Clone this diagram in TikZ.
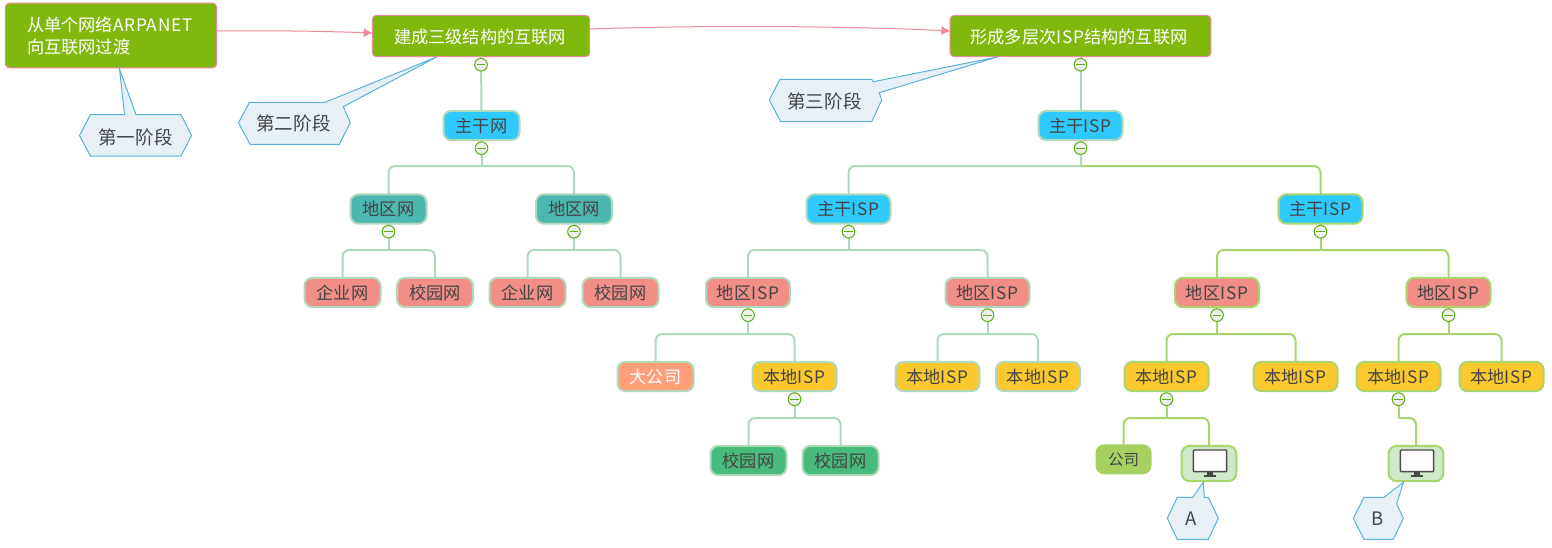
\documentclass[tikz,border=0pt]{standalone}
\usepackage{fontspec}
\setmainfont{Noto Sans CJK SC}
\usetikzlibrary{arrows.meta,calc}
\definecolor{rootfill}{HTML}{80B90E}
\definecolor{rootline}{HTML}{F0899A}
\definecolor{lgreen}{HTML}{B0D9BB}
\definecolor{lime}{HTML}{A8D56C}
\definecolor{bluef}{HTML}{2FC9FC}
\definecolor{tealf}{HTML}{4CB7AF}
\definecolor{salmonf}{HTML}{F18E86}
\definecolor{goldf}{HTML}{FBC82D}
\definecolor{greenf}{HTML}{48BA7C}
\definecolor{orangef}{HTML}{FF9E78}
\definecolor{compf}{HTML}{A5D160}
\definecolor{pcf}{HTML}{D1E7CC}
\definecolor{txt}{HTML}{444444}
\definecolor{calf}{HTML}{E8F0F7}
\definecolor{call}{HTML}{5BB2D6}
\definecolor{minusg}{HTML}{5BAE14}
\newcommand{\lat}[1]{{\addfontfeature{LetterSpace=5}#1}}
\tikzset{
  x=0.75pt,y=-0.75pt,
  base/.style={font=\fontsize{12.9pt}{16.5pt}\selectfont,text=txt,inner sep=0pt,outer sep=0pt,align=center},
  cjk/.style={base,text height=11.3pt,text depth=1.5pt},
  rootbox/.style={base,text=white,draw=rootline,fill=rootfill,line width=0.75pt,rounded corners=3pt},
  topic/.style={cjk,line width=1.5pt,rounded corners=6pt,minimum height=22pt},
  nar/.style={topic,minimum width=57pt},
  wid/.style={topic,minimum width=63pt},
  lg/.style={draw=lgreen},
  lm/.style={draw=lime},
  conn/.style={line width=1.5pt,rounded corners=5pt},
  collapse/.style={circle,draw=minusg,fill=white!88!gray,line width=0.75pt,minimum size=9.5pt,inner sep=0pt,
    path picture={\draw[minusg,line width=0.8pt] ($(path picture bounding box.west)+(2.2,0)$) -- ($(path picture bounding box.east)+(-2.2,0)$);}},
  jump/.style={draw=rootline,line width=0.75pt,-{Latex[length=6.5pt,width=7pt]}},
  bubble/.style={draw=call,fill=calf,line width=0.75pt,line join=miter},
  bubbletext/.style={font=\fontsize{13.9pt}{16pt}\selectfont,text=txt,inner sep=0pt},
}
\newcommand{\branch}[4]{% style, parent, bus y, children
  \coordinate (#2-bus) at (#2.south |- 0,#3);
  \draw[conn,#1] (#2.south) -- (#2-bus);
  \foreach \kid in {#4} {\draw[conn,#1] (#2-bus) -| (\kid.north);}
}
\newcommand{\monitor}[1]{%
  \begin{scope}[shift={(#1.center)}]
    \draw[draw=black!70,fill=white!97!pink,line width=1.1pt,rounded corners=0.8pt] (-15.7,-13.5) rectangle (17.7,8.2);
    \fill[black!72] (-1.7,8.2) rectangle (3.7,11.6);
    \fill[black!72] (-5,11.6) rectangle (7,13.3);
  \end{scope}}
\begin{document}
\begin{tikzpicture}
\fill[white] (0,0) rectangle (1552,547);
\useasboundingbox (0,0) rectangle (1552,547);

% roots
\node[rootbox,minimum width=158.5pt,minimum height=48.5pt] (r1) at (111,35.5) {};
\node[base,text=white,align=left,anchor=west] (r1t) at (27,35.5) {从单个网络\lat{ARPANET}\\向互联网过渡};
\node[rootbox,minimum width=163pt,minimum height=31pt] (r2) at (481,36) {};
\node[cjk,text=white] (r2t) at (480,36.5) {建成三级结构的互联网};
\node[rootbox,minimum width=195.5pt,minimum height=31pt] (r3) at (1080.5,36) {};
\node[cjk,text=white] (r3t) at (1079,36.5) {形成多层次\lat{ISP}结构的互联网};

% left tree
\node[nar,draw=lgreen,fill=bluef] (a0) at (481.5,125.5) {主干网};
\node[nar,draw=lgreen,fill=tealf] (a1) at (388.5,209) {地区网};
\node[nar,draw=lgreen,fill=tealf] (a2) at (574,209) {地区网};
\node[nar,draw=lgreen,fill=salmonf] (a11) at (342.5,292.5) {企业网};
\node[nar,draw=lgreen,fill=salmonf] (a12) at (435,292.5) {校园网};
\node[nar,draw=lgreen,fill=salmonf] (a21) at (527.5,292.5) {企业网};
\node[nar,draw=lgreen,fill=salmonf] (a22) at (620.5,292.5) {校园网};

% right tree, left half
\node[wid,draw=lgreen,fill=bluef] (b0) at (1080.5,125.5) {主干\lat{ISP}};
\node[wid,draw=lgreen,fill=bluef] (b1) at (848.5,209) {主干\lat{ISP}};
\node[wid,draw=lgreen,fill=salmonf] (b11) at (748,292.5) {地区\lat{ISP}};
\node[wid,draw=lgreen,fill=salmonf] (b12) at (987.5,292.5) {地区\lat{ISP}};
\node[nar,draw=lgreen,fill=orangef,text=white] (b111) at (655.5,376.5) {大公司};
\node[wid,draw=lgreen,fill=goldf] (b112) at (794.5,376.5) {本地\lat{ISP}};
\node[wid,draw=lgreen,fill=goldf] (b121) at (937.5,376.5) {本地\lat{ISP}};
\node[wid,draw=lgreen,fill=goldf] (b122) at (1038,376.5) {本地\lat{ISP}};
\node[nar,draw=lgreen,fill=greenf] (b1121) at (748.5,460.5) {校园网};
\node[nar,draw=lgreen,fill=greenf] (b1122) at (840.5,460.5) {校园网};

% right tree, right half
\node[wid,draw=lime,fill=bluef] (c1) at (1320.5,209) {主干\lat{ISP}};
\node[wid,draw=lime,fill=salmonf] (c11) at (1217,292.5) {地区\lat{ISP}};
\node[wid,draw=lime,fill=salmonf] (c12) at (1448.5,292.5) {地区\lat{ISP}};
\node[wid,draw=lime,fill=goldf] (c111) at (1166.5,376.5) {本地\lat{ISP}};
\node[wid,draw=lime,fill=goldf] (c112) at (1295.5,376.5) {本地\lat{ISP}};
\node[wid,draw=lime,fill=goldf] (c121) at (1398.5,376.5) {本地\lat{ISP}};
\node[wid,draw=lime,fill=goldf] (c122) at (1501.5,376.5) {本地\lat{ISP}};
\node[cjk,font=\fontsize{11.6pt}{14pt}\selectfont,fill=compf,rounded corners=6.5pt,minimum width=42pt,minimum height=22.5pt] (co) at (1123.5,459.3) {公司};
\node[draw=lime,fill=pcf,line width=1.5pt,rounded corners=6pt,minimum width=41pt,minimum height=26.5pt,inner sep=0pt,outer sep=0pt] (pc1) at (1209,463.5) {};
\node[draw=lime,fill=pcf,line width=1.5pt,rounded corners=6pt,minimum width=41pt,minimum height=26.5pt,inner sep=0pt,outer sep=0pt] (pc2) at (1416,463.5) {};
\monitor{pc1}
\monitor{pc2}

% connectors
\draw[conn,lg] (r2.south) -- (a0.north);
\branch{lg}{a0}{166}{a1,a2}
\branch{lg}{a1}{250}{a11,a12}
\branch{lg}{a2}{250}{a21,a22}
\draw[conn,lg] (r3.south) -- (b0.north);
\coordinate (b0-bus) at (b0.south |- 0,166);
\draw[conn,lm] (b0-bus) -| (c1.north);
\draw[conn,lg] (b0-bus) -| (b1.north);
\draw[conn,lg] (b0.south) -- (b0-bus);
\branch{lg}{b1}{250}{b11,b12}
\branch{lg}{b11}{334}{b111,b112}
\branch{lg}{b12}{334}{b121,b122}
\branch{lg}{b112}{418}{b1121,b1122}
\branch{lm}{c1}{250}{c11,c12}
\branch{lm}{c11}{334}{c111,c112}
\branch{lm}{c12}{334}{c121,c122}
\branch{lm}{c111}{418}{co,pc1}
\branch{lm}{c121}{418}{pc2}

% collapse buttons
\foreach \p in {r2,r3,a0,a1,a2,b0,b1,b11,b12,b112,c1,c11,c12,c111,c121}
  \node[collapse] (m-\p) at ($(\p.south)+(0,8)$) {};

% jump arrows
\coordinate (j1s) at (r1.east |- 0,31);
\coordinate (j1e) at (r2.west |- 0,33);
\coordinate (j2s) at (r2.east |- 0,29);
\coordinate (j2e) at (r3.west |- 0,31);
\draw[jump] (j1s) .. controls (270,30.5) and (320,31) .. (j1e);
\draw[jump] (j2s) .. controls (700,25) and (850,26) .. (j2e);

% callouts
\draw[bubble] (79.5,135.5) -- (90.5,114.5) -- (124.5,114.5) -- (119.5,69) -- (136,114.5) -- (181,114.5) -- (191.5,135.5) -- (181,156) -- (90.5,156) -- cycle;
\node[bubbletext] (s1) at (135.5,137) {第一阶段};
\draw[bubble] (238.5,122.7) -- (249.5,102.3) -- (325,102.3) -- (436.7,57) -- (343.3,106.7) -- (350.3,122.7) -- (339.3,144.3) -- (250,144.3) -- cycle;
\node[bubbletext] (s2) at (293.5,123) {第二阶段};
\draw[bubble] (769.3,100) -- (780,79.3) -- (871.7,79.3) -- (873.3,81.7) -- (997.3,57) -- (879.3,92.7) -- (881.7,100) -- (871.7,121.7) -- (780.7,121.7) -- cycle;
\node[bubbletext] (s3) at (824.5,101) {第三阶段};
\draw[bubble] (1167.3,518.3) -- (1177.3,497.3) -- (1192.7,497.3) -- (1203.3,482.3) -- (1204.3,497.3) -- (1208.3,497.3) -- (1218.3,518.3) -- (1208.3,539.3) -- (1177.3,539.3) -- cycle;
\node[bubbletext] (sa) at (1191.5,519) {A};
\draw[bubble] (1353.3,518.3) -- (1364,497.3) -- (1384,497.3) -- (1403.3,482.3) -- (1396.7,504) -- (1403.3,518.3) -- (1393.3,539.3) -- (1364,539.3) -- cycle;
\node[bubbletext] (sb) at (1378,519) {B};
\end{tikzpicture}
\end{document}
